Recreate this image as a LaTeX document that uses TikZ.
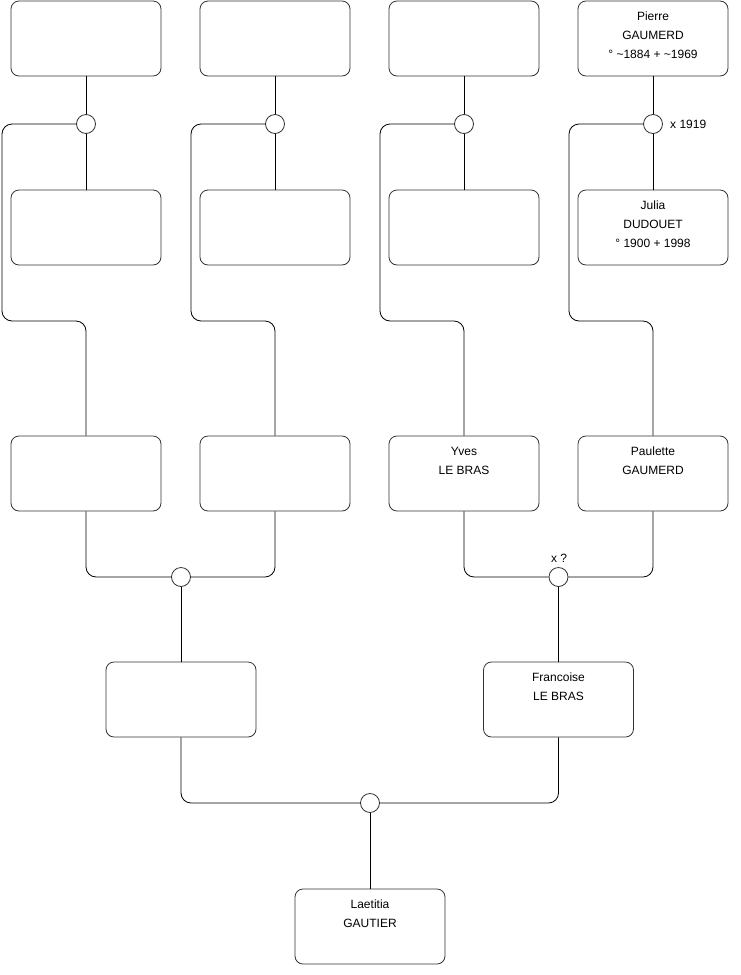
\documentclass[tikz,border=0pt]{standalone}
\usepackage{fontspec}
\setmainfont{Liberation Sans}
\newcommand\ptext[1]{\parbox[t][75pt][t]{150pt}{\centering\fontsize{12}{19}\selectfont\rule{0pt}{19.5pt}#1}}
\begin{document}
\begin{tikzpicture}[x=1pt,y=-1pt,
  person/.style={draw=black!80, rounded corners=8pt, minimum width=150pt, minimum height=75pt, inner sep=0pt, line width=0.8pt},
  union/.style={circle, draw=black!80, minimum size=19pt, inner sep=0pt, fill=white, line width=0.8pt},
  link/.style={draw=black, line width=0.8pt, rounded corners=10pt},
  lbl/.style={font=\fontsize{12}{14}\selectfont, inner sep=0pt}]
\useasboundingbox (0,0) rectangle (740,975);
% row 1
\node[person] (p1) at (86,38.5) {\ptext{}};
\node[person] (p2) at (275,38.5) {\ptext{}};
\node[person] (p3) at (464,38.5) {\ptext{}};
\node[person] (p4) at (653,38.5) {\ptext{Pierre\\GAUMERD\\° \textasciitilde1884 + \textasciitilde1969}};
% row 2
\node[person] (m1) at (86,227.5) {\ptext{}};
\node[person] (m2) at (275,227.5) {\ptext{}};
\node[person] (m3) at (464,227.5) {\ptext{}};
\node[person] (m4) at (653,227.5) {\ptext{Julia\\DUDOUET\\° 1900 + 1998}};
% unions row 1
\node[union] (u1) at (86,124) {};
\node[union] (u2) at (275,124) {};
\node[union] (u3) at (464,124) {};
\node[union] (u4) at (653,124) {};
\node[lbl, anchor=west] (l4) at (670,124) {x 1919};
% row 3
\node[person] (c1) at (86,473.5) {\ptext{}};
\node[person] (c2) at (275,473.5) {\ptext{}};
\node[person] (c3) at (464,473.5) {\ptext{Yves\\LE BRAS}};
\node[person] (c4) at (653,473.5) {\ptext{Paulette\\GAUMERD}};
% unions row 3
\node[union] (v1) at (181,577) {};
\node[union] (v2) at (558.5,577) {};
\node[lbl, anchor=south] (l2) at (559,563) {x ?};
% row 4
\node[person] (g1) at (181,699.5) {\ptext{}};
\node[person] (g2) at (558.5,699.5) {\ptext{Francoise\\LE BRAS}};
\node[union] (w) at (370,803) {};
% row 5
\node[person] (r) at (370,926.5) {\ptext{Laetitia\\GAUTIER}};
% connectors
\foreach \i/\x in {1/2,2/191,3/380,4/569}{
  \draw[link] (p\i.south) -- (u\i.north);
  \draw[link] (u\i.south) -- (m\i.north);
  \draw[link] (u\i.west) -| (\x,321) -| (c\i.north);
}
\draw[link] (c1.south) |- (v1.west);
\draw[link] (c2.south) |- (v1.east);
\draw[link] (c3.south) |- (v2.west);
\draw[link] (c4.south) |- (v2.east);
\draw[link] (v1.south) -- (g1.north);
\draw[link] (v2.south) -- (g2.north);
\draw[link] (g1.south) |- (w.west);
\draw[link] (g2.south) |- (w.east);
\draw[link] (w.south) -- (r.north);
\end{tikzpicture}
\end{document}
